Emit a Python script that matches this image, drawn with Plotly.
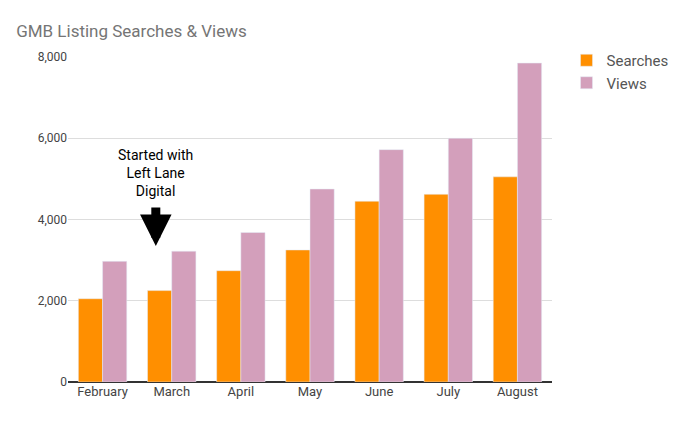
import plotly.graph_objects as go

months = ["February", "March", "April", "May", "June", "July", "August"]
searches = [2050, 2250, 2740, 3250, 4450, 4620, 5050]
views = [2970, 3220, 3680, 4750, 5720, 6000, 7850]
y_ticks = [0, 2000, 4000, 6000, 8000]
y_labels = ["0", "2,000", "4,000", "6,000", "8,000"]

fig = go.Figure()
fig.add_trace(go.Bar(x=months, y=searches, name="Searches", marker_color="#ff8f00"))
fig.add_trace(go.Bar(x=months, y=views, name="Views", marker_color="#d39fbb"))

# arrow pointing at the March bars
fig.add_annotation(x=0.77, y=3350, ax=0, ay=-40, xref="x", yref="y",
                   text="", showarrow=True, arrowhead=2, arrowsize=0.7,
                   arrowwidth=9, arrowcolor="black")
fig.add_annotation(x=0.77, y=4450, xref="x", yref="y", yanchor="bottom",
                   text="Started with<br>Left Lane<br>Digital", showarrow=False,
                   font=dict(size=14, color="black"))

fig.update_layout(
    width=678, height=422,
    title=dict(text="GMB Listing Searches & Views", x=0.012, y=0.96,
               font=dict(size=17, color="#757575")),
    font=dict(family="Roboto, Arial", size=12, color="#444"),
    plot_bgcolor="white", paper_bgcolor="white",
    margin=dict(l=60, r=123, t=49, b=48),
    bargap=0.3, bargroupgap=0.0,
    legend=dict(x=1.03, y=1.04, xanchor="left", yanchor="top",
                tracegroupgap=8, font=dict(size=15, color="#555")),
    xaxis=dict(showline=False, tickfont=dict(size=13)),
    yaxis=dict(range=[0, 8000], tickvals=y_ticks, ticktext=y_labels,
               gridcolor="#dddddd", zeroline=True, zerolinecolor="#333",
               tickfont=dict(size=12)),
)
fig.write_html("out.html")
